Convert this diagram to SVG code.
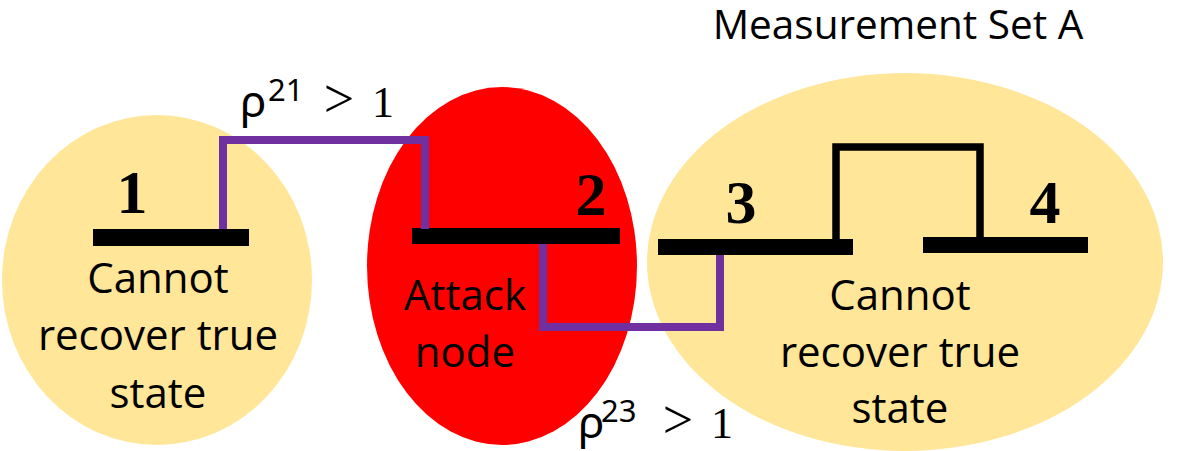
<svg xmlns="http://www.w3.org/2000/svg" width="1186" height="451" viewBox="0 0 1186 451">
  <style>
    .region-safe { fill: #FFE699; }
    .region-attack { fill: #FF0000; }
    .bus { fill: #000000; }
    .num { font-family: "Liberation Serif", "DejaVu Serif", serif; font-weight: bold; font-size: 62px; fill: #000; text-anchor: middle; }
    .lbl { font-family: "Open Sans", "Noto Sans", sans-serif; font-size: 42px; fill: #000; text-anchor: middle; }
    .title { font-family: "Open Sans", "Noto Sans", sans-serif; font-size: 40.5px; fill: #000; text-anchor: middle; }
    .rho { font-family: "Noto Sans", "DejaVu Sans", sans-serif; font-size: 44px; fill: #000; }
    .sup { font-family: "Noto Sans", "DejaVu Sans", sans-serif; font-size: 31px; fill: #000; }
    .gt { font-family: "Liberation Serif", "DejaVu Serif", serif; font-size: 54px; fill: #000; text-anchor: middle; }
    .one { font-family: "Liberation Serif", "DejaVu Serif", serif; font-size: 44px; fill: #000; text-anchor: middle; }
    .line-purple { fill: none; stroke: #7030A0; stroke-width: 8; stroke-linejoin: miter; }
    .line-black { fill: none; stroke: #000; stroke-width: 7.5; stroke-linejoin: miter; }
  </style>

  <!-- bus 1 region -->
  <g id="node-1">
    <ellipse class="region-safe" cx="157" cy="280" rx="155" ry="165"/>
    <text class="num" x="132" y="213">1</text>
    <rect class="bus" x="93" y="229" width="156" height="17"/>
    <text class="lbl" x="158" y="293">Cannot</text>
    <text class="lbl" x="158" y="350">recover true</text>
    <text class="lbl" x="158" y="408">state</text>
  </g>

  <!-- attacked bus 2 -->
  <g id="node-2">
    <ellipse class="region-attack" cx="502" cy="266" rx="135" ry="179"/>
    <text class="num" x="591" y="215">2</text>
    <rect class="bus" x="412" y="228" width="208" height="16"/>
    <text class="lbl" x="465" y="310">Attack</text>
    <text class="lbl" x="465" y="367">node</text>
  </g>

  <!-- measurement set A: buses 3 and 4 -->
  <g id="node-set-a">
    <ellipse class="region-safe" cx="905" cy="262" rx="258" ry="189"/>
    <text class="title" x="898" y="39">Measurement Set A</text>
    <text class="num" x="741" y="223">3</text>
    <text class="num" x="1045" y="223">4</text>
    <rect class="bus" x="658" y="239" width="195" height="16"/>
    <rect class="bus" x="923" y="237" width="165" height="16"/>
    <text class="lbl" x="900" y="310">Cannot</text>
    <text class="lbl" x="900" y="367">recover true</text>
    <text class="lbl" x="900" y="423">state</text>
  </g>

  <!-- lines between buses -->
  <g id="connectors">
    <polyline class="line-purple" points="223,229 223,140 425,140 425,229"/>
    <polyline class="line-purple" points="543,244 543,327 720,327 720,255"/>
    <polyline class="line-black" points="836,240 836,147 980,147 980,238"/>
    <text class="rho" x="240" y="117">ρ</text>
    <text class="sup" x="268" y="101">21</text>
    <text class="gt" x="339" y="117">&gt;</text>
    <text class="one" x="383" y="117">1</text>
    <text class="rho" x="578" y="438">ρ</text>
    <text class="sup" x="601" y="422">23</text>
    <text class="gt" x="678" y="438">&gt;</text>
    <text class="one" x="722" y="438">1</text>
  </g>
</svg>
